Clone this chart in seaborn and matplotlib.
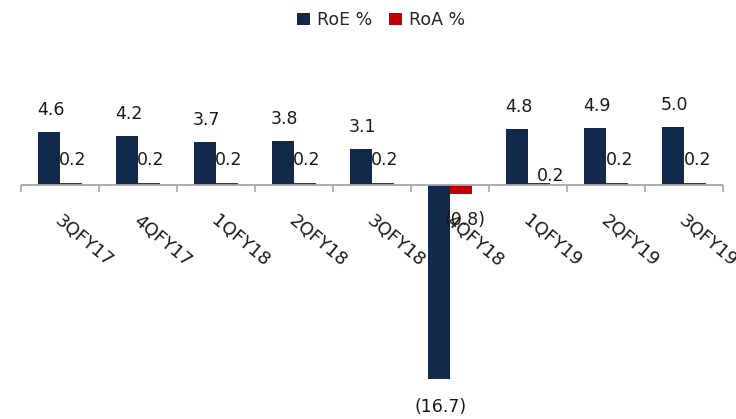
import matplotlib
matplotlib.use("Agg")
import matplotlib.pyplot as plt
from matplotlib.transforms import ScaledTranslation
import pandas as pd
import seaborn as sns

# Quarterly return ratios
quarters = ["3QFY17", "4QFY17", "1QFY18", "2QFY18", "3QFY18",
            "4QFY18", "1QFY19", "2QFY19", "3QFY19"]
roe = [4.6, 4.2, 3.7, 3.8, 3.1, -16.7, 4.8, 4.9, 5.0]
roa = [0.2, 0.2, 0.2, 0.2, 0.2, -0.8, 0.2, 0.2, 0.2]
series_names = ["RoE %", "RoA %"]

# Label offsets (pixels) for the RoA value labels: (dx, dy away from bar end)
roa_label_offsets = [(2, 23), (2, 23), (2, 23), (2, 23), (2, 23),
                     (4, 26), (12, 7), (3, 23), (3, 23)]

colors = {"RoE %": "#13294b", "RoA %": "#c00000"}

df = pd.DataFrame({
    "quarter": quarters * 2,
    "value": roe + roa,
    "series": [series_names[0]] * len(quarters) + [series_names[1]] * len(quarters),
})

sns.set_style("white")
plt.rcParams["font.family"] = ["DejaVu Sans"]

W, H = 736, 419
fig = plt.figure(figsize=(W / 100, H / 100), dpi=100)
ax_top, ax_bot = 30, 400
ax = fig.add_axes([21 / W, (H - ax_bot) / H, 702 / W, (ax_bot - ax_top) / H])

sns.barplot(data=df, x="quarter", y="value", hue="series", order=quarters,
            hue_order=series_names, palette=colors, saturation=1, width=0.57,
            gap=0, edgecolor="none", linewidth=0, ax=ax)

px_per_unit = 11.6
ax.set_xlim(-0.5, len(quarters) - 0.5)
ax.set_ylim(-(ax_bot - 185) / px_per_unit, (185 - ax_top) / px_per_unit)

for side in ["left", "right", "top", "bottom"]:
    ax.spines[side].set_visible(False)
ax.axhline(0, color="#a6a6a6", lw=1.3, zorder=3)

# Category boundary tick marks hanging from the zero line
ax.spines["bottom"].set_position(("data", 0))
ax.set_xticks([i - 0.5 for i in range(len(quarters) + 1)], minor=True)
ax.tick_params(axis="x", which="minor", length=5, width=1.2, color="#a6a6a6",
               direction="out", bottom=True)
ax.tick_params(axis="x", which="major", length=0, pad=19)
ax.xaxis.set_ticks_position("bottom")
ax.set_yticks([])
ax.set_xlabel("")
ax.set_ylabel("")

ax.set_xticks(range(len(quarters)))
ax.set_xticklabels(quarters, rotation=-40, ha="left", va="top",
                   rotation_mode="anchor", fontsize=13, color="#1a1a1a")
shift = ScaledTranslation(3 / 100, 0, fig.dpi_scale_trans)
for lab in ax.get_xticklabels():
    lab.set_transform(lab.get_transform() + shift)


def fmt(v):
    return f"({abs(v):.1f})" if v < 0 else f"{v:.1f}"


roe_bars, roa_bars = ax.containers[0], ax.containers[1]
for bar, v in zip(roe_bars, roe):
    x = bar.get_x() + bar.get_width() / 2
    dy = 22 if v >= 0 else -28
    ax.annotate(fmt(v), (x, v), xytext=(2, dy), textcoords="offset pixels",
                ha="center", va="center", fontsize=12.5, color="#1a1a1a")
for bar, v, (dx, dy) in zip(roa_bars, roa, roa_label_offsets):
    x = bar.get_x() + bar.get_width() / 2
    ax.annotate(fmt(v), (x, v), xytext=(dx, dy if v >= 0 else -dy),
                textcoords="offset pixels", ha="center", va="center",
                fontsize=12.5, color="#1a1a1a")

handles, labels = ax.get_legend_handles_labels()
ax.get_legend().remove()
fig.legend(handles, labels, loc="center", bbox_to_anchor=(381 / W, 1 - 20 / H),
           ncol=2, frameon=False, fontsize=12.5, handlelength=0.75,
           handleheight=0.75, handletextpad=0.4, columnspacing=1.0)

fig.savefig("out.png", dpi=100)
